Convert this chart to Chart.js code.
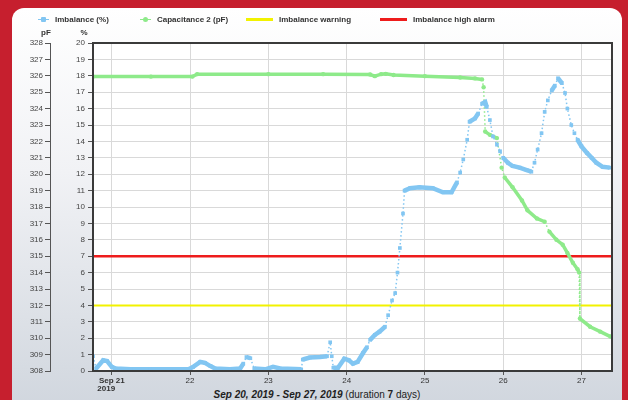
<!DOCTYPE html>
<html>
<head>
<meta charset="utf-8">
<script src="https://cdn.jsdelivr.net/npm/chart.js@4.4.1/dist/chart.umd.min.js"></script>
<style>
    html, body { margin: 0; padding: 0; }
    body { width: 628px; height: 400px; background: #c61f2e; position: relative; overflow: hidden; font-family: "Liberation Sans", Arial, sans-serif; }
    #panel { position: absolute; left: 12px; top: 8px; width: 610px; height: 410px; border-radius: 12px;
        background: linear-gradient(to bottom, #ffffff 0%, #f1f2f5 40%, #cfd5dd 100%); }
    #chart { position: absolute; left: 0; top: 0; z-index: 2; }
    #legend { position: absolute; top: 13px; left: 0; width: 628px; height: 14px; font-size: 8px; font-weight: bold; color: #333; z-index: 3; }
    .item { position: absolute; top: 0; display: flex; align-items: center; height: 12px; white-space: nowrap; }
    .icon { position: relative; display: inline-block; margin-right: 6px; }
    .mark { position: absolute; top: -2px; left: 3px; width: 5px; height: 5px; }
    #footer { position: absolute; left: 12px; width: 610px; top: 389px; line-height: 11px; text-align: center; font-size: 10px; color: #222; z-index: 1; }
</style>
</head>
<body>
<div id="panel"></div>
<div id="footer"><b><i>Sep 20, 2019 - Sep 27, 2019</i></b> (duration <b>7</b> days)</div>
<canvas id="chart" width="628" height="400"></canvas>
<div id="legend"></div>
<script>
// x values are days of September 2019
const imbalanceDays = [20.76, 20.80, 20.89, 20.94, 21.00, 21.05, 21.24, 21.49, 21.75, 21.98,
    22.04, 22.13, 22.19, 22.26, 22.32, 22.51, 22.64, 22.68, 22.72, 22.77, 22.82, 22.96,
    23.06, 23.15, 23.34, 23.42, 23.44, 23.53, 23.66, 23.75, 23.79, 23.81, 23.83, 23.89, 23.97,
    24.03, 24.08, 24.14, 24.21, 24.26, 24.30, 24.36, 24.42, 24.49, 24.53, 24.58, 24.62, 24.65,
    24.68, 24.72, 24.74, 24.81, 24.93, 25.10, 25.23, 25.34, 25.41, 25.45, 25.49, 25.54, 25.57,
    25.64, 25.68, 25.73, 25.77, 25.79, 25.83, 25.87, 25.92, 25.96, 26.00, 26.06, 26.12, 26.21,
    26.30, 26.36, 26.40, 26.44, 26.49, 26.53, 26.57, 26.62, 26.66, 26.70, 26.75, 26.79, 26.82,
    26.87, 26.91, 26.95, 27.00, 27.07, 27.13, 27.19, 27.27, 27.36];
const imbalanceValues = [0.9, 0.15, 0.65, 0.6, 0.25, 0.15, 0.1, 0.1, 0.1, 0.1,
    0.25, 0.55, 0.5, 0.3, 0.15, 0.1, 0.15, 0.45, 0.85, 0.78, 0.15, 0.1,
    0.25, 0.15, 0.12, 0.1, 0.7, 0.82, 0.85, 0.9, 1.75, 0.9, 0.2, 0.2, 0.75,
    0.65, 0.45, 0.55, 1.1, 1.45, 1.9, 2.2, 2.4, 2.7, 3.4, 4.3, 4.75, 6.0,
    7.5, 9.6, 11.0, 11.15, 11.2, 11.15, 10.9, 10.9, 11.5, 12.1, 12.9, 14.1, 15.2,
    15.4, 15.7, 16.3, 16.4, 16.1, 15.3, 14.3, 13.8, 13.4, 13.0, 12.7, 12.5, 12.4,
    12.25, 12.15, 12.7, 13.5, 14.5, 15.8, 16.5, 17.1, 17.4, 17.85, 17.55, 16.95, 16.0,
    15.0, 14.5, 14.1, 13.7, 13.3, 13.0, 12.7, 12.45, 12.4];

const capacitanceDays = [20.76, 21.50, 22.03, 22.09, 23.00, 23.70, 24.30, 24.36, 24.44, 24.50,
    24.60, 25.00, 25.45, 25.64, 25.73, 25.75, 25.77, 25.83, 25.92, 25.98, 26.02, 26.12, 26.24,
    26.31, 26.43, 26.53, 26.59, 26.68, 26.76, 26.82, 26.89, 26.95, 26.97, 26.98, 27.11, 27.24, 27.37];
const capacitanceValues = [325.95, 325.95, 325.95, 326.1, 326.1, 326.1, 326.08, 325.98, 326.1, 326.12,
    326.05, 325.98, 325.9, 325.84, 325.78, 325.3, 322.6, 322.4, 322.2, 320.4, 319.8, 319.2, 318.4,
    317.8, 317.3, 317.1, 316.5, 316.0, 315.7, 315.2, 314.6, 314.2, 314.0, 311.2, 310.7, 310.4, 310.1];

const warningLevel = 4;
const alarmLevel = 7;

const seriesNames = ['Imbalance (%)', 'Capacitance 2 (pF)', 'Imbalance warning', 'Imbalance high alarm'];
const seriesColors = ['#82c6f2', '#8eea8a', '#f2f200', '#ee1c1c'];
const dayTicks = [21, 22, 23, 24, 25, 26, 27];
const xMin = 20.76, xMax = 27.39;

const toPoints = (xs, ys) => xs.map((x, i) => ({ x: x, y: ys[i] }));
// sparse (fast changing) stretches are dotted, dense ones look like a solid band of markers
const steep = ctx => {
    const dy = Math.abs(ctx.p1.y - ctx.p0.y);
    const dx = Math.abs(ctx.p1.x - ctx.p0.x);
    return dy > 5 && dy > dx * 1.8;
};
const tickFont = { family: 'Liberation Sans, Arial, sans-serif', size: 8, lineHeight: 1.1 };

const bgPlugin = {
    id: 'plotBox',
    beforeDraw(chart) {
        const a = chart.chartArea, c = chart.ctx;
        c.save();
        c.fillStyle = '#ffffff';
        c.fillRect(a.left, a.top, a.right - a.left, a.bottom - a.top);
        c.restore();
    },
    afterDraw(chart) {
        const a = chart.chartArea, c = chart.ctx;
        c.save();
        c.strokeStyle = '#3a3a3a';
        c.lineWidth = 2;
        c.strokeRect(a.left, a.top, a.right - a.left, a.bottom - a.top);
        // unit labels above the two y axes
        c.fillStyle = '#333';
        c.font = 'bold 8px Liberation Sans, Arial, sans-serif';
        c.textAlign = 'center';
        c.fillText('pF', chart.scales.yPF.right - 4, a.top - 8);
        c.fillText('%', chart.scales.y.right - 9, a.top - 8);
        c.restore();
    }
};

const ctx = document.getElementById('chart').getContext('2d');
const chart = new Chart(ctx, {
    type: 'line',
    data: {
        datasets: [{
            label: seriesNames[0],
            data: toPoints(imbalanceDays, imbalanceValues),
            yAxisID: 'y',
            borderColor: seriesColors[0],
            backgroundColor: seriesColors[0],
            borderWidth: 1.5,
            pointStyle: 'rect',
            pointRadius: 2.6,
            pointBorderWidth: 0,
            segment: {
                borderWidth: c => steep(c) ? 1.5 : 4.5,
                borderDash: c => steep(c) ? [1.5, 2.5] : undefined
            }
        }, {
            label: seriesNames[1],
            data: toPoints(capacitanceDays, capacitanceValues),
            yAxisID: 'yPF',
            borderColor: seriesColors[1],
            backgroundColor: seriesColors[1],
            borderWidth: 1.5,
            pointStyle: 'circle',
            pointRadius: 2.2,
            pointBorderWidth: 0,
            segment: {
                borderWidth: c => steep(c) ? 1.5 : 3.5,
                borderDash: c => steep(c) ? [1.5, 2.5] : undefined
            }
        }, {
            label: seriesNames[2],
            data: [{ x: xMin, y: warningLevel }, { x: xMax, y: warningLevel }],
            yAxisID: 'y',
            borderColor: seriesColors[2],
            borderWidth: 2,
            pointRadius: 0
        }, {
            label: seriesNames[3],
            data: [{ x: xMin, y: alarmLevel }, { x: xMax, y: alarmLevel }],
            yAxisID: 'y',
            borderColor: seriesColors[3],
            borderWidth: 2.5,
            pointRadius: 0
        }]
    },
    options: {
        responsive: false,
        animation: false,
        events: [],
        layout: { padding: { left: 12, right: 16, top: 43, bottom: 8 } },
        scales: {
            x: {
                type: 'linear',
                min: xMin,
                max: xMax,
                afterBuildTicks: scale => { scale.ticks = dayTicks.map(v => ({ value: v })); },
                afterFit: scale => { scale.height = 21; },
                ticks: {
                    padding: 1,
                    maxRotation: 0,
                    autoSkip: false,
                    color: '#333',
                    font: c => c.tick && c.tick.value === 21 ? { ...tickFont, weight: 'bold' } : tickFont,
                    callback: v => v === 21 ? ['Sep 21', '2019     '] : String(v)
                },
                grid: { color: '#d9d9d9', tickColor: '#555', tickLength: 4 },
                border: { color: '#3a3a3a', width: 2 }
            },
            y: {
                position: 'left',
                weight: 0,
                min: 0,
                max: 20,
                afterFit: scale => { scale.width = 43; },
                ticks: { stepSize: 1, padding: 3, color: '#444', font: tickFont },
                grid: { color: '#d9d9d9', tickColor: '#555', tickLength: 5 },
                border: { color: '#3a3a3a', width: 2 }
            },
            yPF: {
                position: 'left',
                weight: 1,
                min: 308,
                max: 328,
                afterFit: scale => { scale.width = 38; },
                ticks: { stepSize: 1, padding: 2, color: '#444', font: tickFont },
                grid: { drawOnChartArea: false, tickColor: '#555', tickLength: 5 },
                border: { color: '#555', width: 1 }
            }
        },
        plugins: {
            legend: { display: false },
            tooltip: { enabled: false }
        }
    },
    plugins: [bgPlugin]
});

// legend row laid out like the original
const legendLeft = [38, 140, 246, 380];
const legendBox = document.getElementById('legend');
chart.data.datasets.forEach((ds, i) => {
    const item = document.createElement('div');
    item.className = 'item';
    item.style.left = legendLeft[i] + 'px';
    const icon = document.createElement('span');
    icon.className = 'icon';
    if (i < 2) {
        icon.style.width = '11px';
        icon.style.height = '1px';
        icon.style.background = ds.borderColor;
        const m = document.createElement('span');
        m.className = 'mark';
        m.style.background = ds.borderColor;
        m.style.borderRadius = i === 0 ? '1px' : '3px';
        icon.appendChild(m);
    } else {
        icon.style.width = '27px';
        icon.style.height = '3px';
        icon.style.background = ds.borderColor;
    }
    item.appendChild(icon);
    item.appendChild(document.createTextNode(ds.label));
    legendBox.appendChild(item);
});
</script>
</body>
</html>
